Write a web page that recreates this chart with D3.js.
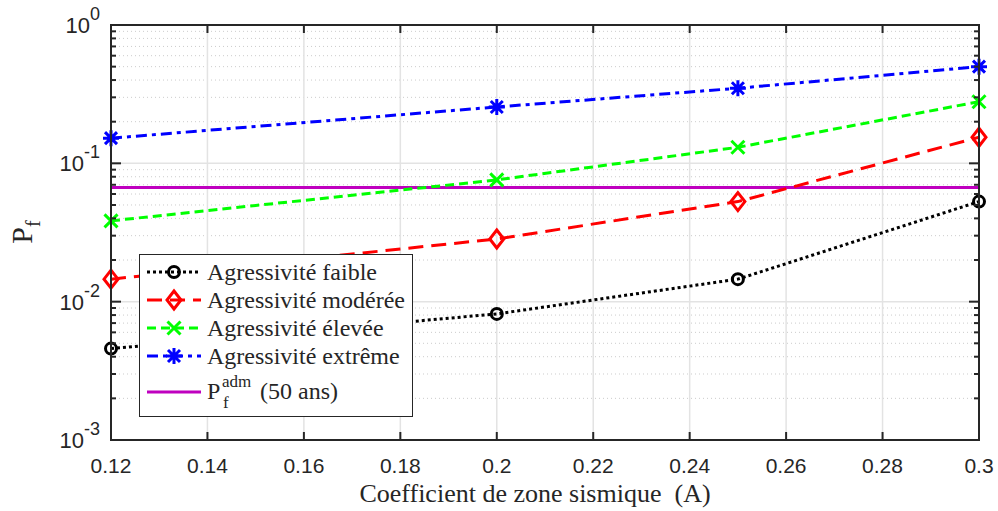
<!DOCTYPE html>
<html>
<head>
<meta charset="utf-8">
<script src="https://cdn.jsdelivr.net/npm/d3@7"></script>
<style>
  body { margin: 0; background: #fff; }
  svg { display: block; }
  .tick-label { font-family: 'Liberation Sans', Arial, sans-serif; fill: #262626; }
  .serif { font-family: 'Liberation Serif', 'Times New Roman', serif; fill: #262626; }
</style>
</head>
<body>
<svg width="998" height="511"></svg>
<script>
// data
const coefA = [0.12, 0.2, 0.25, 0.3];
const pfFaible = [0.00458, 0.00816, 0.01455, 0.0529];
const pfModeree = [0.01455, 0.0284, 0.0529, 0.1544];
const pfElevee = [0.0384, 0.0759, 0.1306, 0.279];
const pfExtreme = [0.152, 0.2556, 0.349, 0.5];
const pfAdm = 0.0668;
const xTicks = [0.12, 0.14, 0.16, 0.18, 0.2, 0.22, 0.24, 0.26, 0.28, 0.3];
const yDecades = [-3, -2, -1, 0];

const series = [
  { name: 'Agressivité faible', values: pfFaible, color: '#000000', dash: '3,3', marker: 'circle' },
  { name: 'Agressivité modérée', values: pfModeree, color: '#ff0000', dash: '15,8', marker: 'diamond' },
  { name: 'Agressivité élevée', values: pfElevee, color: '#00ff00', dash: '9,5', marker: 'cross' },
  { name: 'Agressivité extrême', values: pfExtreme, color: '#0000ff', dash: '11,5,4,5', marker: 'star' }
];

let svg = d3.select('svg'),
  margin = { top: 25, right: 19, bottom: 71, left: 111 },
  width = +svg.attr('width') - margin.left - margin.right,
  height = +svg.attr('height') - margin.top - margin.bottom;

let x = d3.scaleLinear().domain([0.12, 0.3]).range([margin.left, margin.left + width]);
let y = d3.scaleLog().domain([1e-3, 1]).range([margin.top + height, margin.top]);

const x0 = margin.left, x1 = margin.left + width, y0 = margin.top + height, y1 = margin.top;

// minor y values (2..9 per decade)
let minorY = [];
for (let k = -3; k < 0; k++) {
  for (let m = 2; m <= 9; m++) minorY.push(m * Math.pow(10, k));
}

// grid
let grid = svg.append('g');
grid.selectAll('.minor').data(minorY).join('line')
  .attr('x1', x0).attr('x2', x1)
  .attr('y1', d => y(d)).attr('y2', d => y(d))
  .attr('stroke', '#cccccc').attr('stroke-width', 1).attr('stroke-dasharray', '1,3');
grid.selectAll('.xg').data(xTicks).join('line')
  .attr('x1', d => x(d)).attr('x2', d => x(d))
  .attr('y1', y0).attr('y2', y1)
  .attr('stroke', '#e3e3e3').attr('stroke-width', 1.5);
grid.selectAll('.yg').data(yDecades).join('line')
  .attr('x1', x0).attr('x2', x1)
  .attr('y1', d => y(Math.pow(10, d))).attr('y2', d => y(Math.pow(10, d)))
  .attr('stroke', '#e3e3e3').attr('stroke-width', 1.5);

// marker drawing
function drawMarker(g, type, cx, cy, color) {
  if (type === 'circle') {
    g.append('circle').attr('cx', cx).attr('cy', cy).attr('r', 5.5)
      .attr('fill', 'none').attr('stroke', color).attr('stroke-width', 3);
  } else if (type === 'diamond') {
    g.append('path')
      .attr('d', `M${cx},${cy - 9}L${cx + 7},${cy}L${cx},${cy + 9}L${cx - 7},${cy}Z`)
      .attr('fill', 'none').attr('stroke', color).attr('stroke-width', 3);
  } else if (type === 'cross') {
    let s = 6.5;
    g.append('path')
      .attr('d', `M${cx - s},${cy - s}L${cx + s},${cy + s}M${cx - s},${cy + s}L${cx + s},${cy - s}`)
      .attr('stroke', color).attr('stroke-width', 3);
  } else if (type === 'star') {
    let s = 8, d = 6;
    g.append('path')
      .attr('d', `M${cx - s},${cy}L${cx + s},${cy}M${cx},${cy - s}L${cx},${cy + s}` +
        `M${cx - d},${cy - d}L${cx + d},${cy + d}M${cx - d},${cy + d}L${cx + d},${cy - d}`)
      .attr('stroke', color).attr('stroke-width', 3);
  }
}

// series lines
let line = d3.line().x(d => x(d[0])).y(d => y(d[1]));
let plot = svg.append('g');

// admissible line
plot.append('line')
  .attr('x1', x0).attr('x2', x1)
  .attr('y1', y(pfAdm)).attr('y2', y(pfAdm))
  .attr('stroke', '#bf00bf').attr('stroke-width', 3);

series.forEach(s => {
  let pts = coefA.map((a, i) => [a, s.values[i]]);
  plot.append('path').datum(pts)
    .attr('d', line)
    .attr('fill', 'none')
    .attr('stroke', s.color)
    .attr('stroke-width', 3)
    .attr('stroke-dasharray', s.dash);
  pts.forEach(p => drawMarker(plot, s.marker, x(p[0]), y(p[1]), s.color));
});

// axis box + ticks
let axis = svg.append('g').attr('stroke', '#262626');
axis.append('rect')
  .attr('x', x0).attr('y', y1).attr('width', width).attr('height', height)
  .attr('fill', 'none').attr('stroke-width', 2);

xTicks.forEach(t => {
  axis.append('line').attr('x1', x(t)).attr('x2', x(t)).attr('y1', y0).attr('y2', y0 - 8).attr('stroke-width', 2);
  axis.append('line').attr('x1', x(t)).attr('x2', x(t)).attr('y1', y1).attr('y2', y1 + 8).attr('stroke-width', 2);
});
yDecades.forEach(k => {
  let yy = y(Math.pow(10, k));
  axis.append('line').attr('x1', x0).attr('x2', x0 + 10).attr('y1', yy).attr('y2', yy).attr('stroke-width', 2);
  axis.append('line').attr('x1', x1).attr('x2', x1 - 10).attr('y1', yy).attr('y2', yy).attr('stroke-width', 2);
});
minorY.forEach(v => {
  let yy = y(v);
  axis.append('line').attr('x1', x0).attr('x2', x0 + 5).attr('y1', yy).attr('y2', yy).attr('stroke-width', 2);
  axis.append('line').attr('x1', x1).attr('x2', x1 - 5).attr('y1', yy).attr('y2', yy).attr('stroke-width', 2);
});

// tick labels
svg.append('g').selectAll('text').data(xTicks).join('text')
  .attr('class', 'tick-label')
  .attr('x', d => x(d))
  .attr('y', 473)
  .attr('text-anchor', 'middle')
  .attr('font-size', 21)
  .text(d => d3.format('~g')(d));

let yl = svg.append('g').selectAll('text').data(yDecades).join('text')
  .attr('class', 'tick-label')
  .attr('x', 100)
  .attr('y', d => y(Math.pow(10, d)) + 8)
  .attr('text-anchor', 'end')
  .attr('font-size', 22);
yl.append('tspan').text('10');
yl.append('tspan').attr('font-size', 18).attr('dy', -13).text(d => d);

// axis titles
svg.append('text')
  .attr('class', 'serif')
  .attr('x', 535)
  .attr('y', 502)
  .attr('text-anchor', 'middle')
  .attr('font-size', 26)
  .style('white-space', 'pre')
  .text('Coefficient de zone sismique  (A)');

let ylab = svg.append('text')
  .attr('class', 'serif')
  .attr('transform', 'translate(32,232) rotate(-90)')
  .attr('text-anchor', 'middle')
  .attr('font-size', 30);
ylab.append('tspan').text('P');
ylab.append('tspan').attr('font-size', 20).attr('dy', 8).text('f');

// legend
let lg = svg.append('g');
lg.append('rect')
  .attr('x', 139.5).attr('y', 254.5).attr('width', 273).attr('height', 162)
  .attr('fill', '#fff').attr('stroke', '#262626').attr('stroke-width', 1);

const rowY = [272, 300, 328, 356];
series.forEach((s, i) => {
  let ry = rowY[i];
  lg.append('line')
    .attr('x1', 147).attr('x2', 201).attr('y1', ry).attr('y2', ry)
    .attr('stroke', s.color).attr('stroke-width', 3).attr('stroke-dasharray', s.dash);
  drawMarker(lg, s.marker, 174, ry, s.color);
  lg.append('text')
    .attr('class', 'serif')
    .attr('x', 207).attr('y', ry + 8)
    .attr('font-size', 24)
    .text(s.name);
});
lg.append('line')
  .attr('x1', 147).attr('x2', 201).attr('y1', 392).attr('y2', 392)
  .attr('stroke', '#bf00bf').attr('stroke-width', 3);
lg.append('text').attr('class', 'serif')
  .attr('x', 207).attr('y', 399).attr('font-size', 24).text('P');
lg.append('text').attr('class', 'serif')
  .attr('x', 222).attr('y', 387).attr('font-size', 17).text('adm');
lg.append('text').attr('class', 'serif')
  .attr('x', 223).attr('y', 408).attr('font-size', 17).text('f');
lg.append('text').attr('class', 'serif')
  .attr('x', 260).attr('y', 399).attr('font-size', 24).text('(50 ans)');
</script>
</body>
</html>
